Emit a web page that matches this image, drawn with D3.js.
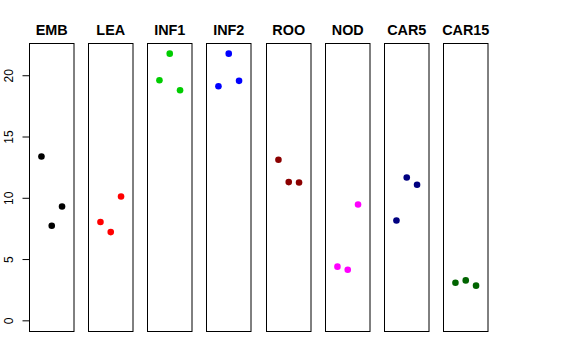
<!DOCTYPE html>
<html lang="en">
<head>
<meta charset="UTF-8">
<script src="https://d3js.org/d3.v7.min.js"></script>
<style>
  body { margin: 0; background: #fff; }
  svg { display: block; font-family: 'Liberation Sans', Arial, sans-serif; }
</style>
</head>
<body>
<svg id="chart" width="576" height="360"></svg>
<script>
// ------------------------------------------------------------------
// Data
// ------------------------------------------------------------------
const groups = ["EMB", "LEA", "INF1", "INF2", "ROO", "NOD", "CAR5", "CAR15"];
const colors = ["#000000", "#FF0000", "#00CD00", "#0000FF", "#8B0000", "#FF00FF", "#000080", "#006400"];
const values = [
  [13.37, 7.72, 9.29],
  [8.02, 7.20, 10.11],
  [19.59, 21.76, 18.78],
  [19.10, 21.76, 19.54],
  [13.10, 11.28, 11.25],
  [4.38, 4.13, 9.45],
  [8.15, 11.65, 11.06],
  [3.07, 3.26, 2.83]
];
const yTicks = [0, 5, 10, 15, 20];

// ------------------------------------------------------------------
// Layout
// ------------------------------------------------------------------
const svg = d3.select("#chart");
const plotTop = 43, plotBottom = 331, panelW = 44.5;

const panelX = d3.scaleLinear().domain([0, groups.length - 1]).range([29, 443]);

const yMax = d3.max(values.flat());
const pad = yMax * 0.04;
const y = d3.scaleLinear().domain([-pad, yMax + pad]).range([plotBottom, plotTop]);

// x inside each panel: positions 1..3 on a 0..4 range with R-style 4% padding
const xIn = d3.scaleLinear().domain([-0.16, 4.16]).range([0, panelW]);

groups.forEach((g, i) => {
  const left = Math.round(panelX(i)) + 0.5;
  const p = svg.append("g").attr("transform", `translate(${left},0)`);

  p.append("rect")
    .attr("x", 0).attr("y", plotTop + 0.5)
    .attr("width", panelW).attr("height", plotBottom - plotTop)
    .attr("fill", "none").attr("stroke", "#000").attr("stroke-width", 1);

  p.append("text")
    .attr("x", panelW / 2).attr("y", 34.5)
    .attr("text-anchor", "middle")
    .attr("font-weight", "bold").attr("font-size", "14.4px")
    .text(g);

  p.selectAll("circle").data(values[i]).join("circle")
    .attr("cx", (d, j) => xIn(j + 1))
    .attr("cy", d => y(d))
    .attr("r", 3.3)
    .attr("fill", colors[i]);
});

// Y axis on the first panel only
const axisX = Math.round(panelX(0)) + 0.5;
const yAxis = d3.axisLeft(y).tickValues(yTicks).tickSize(7).tickPadding(0).tickFormat(d3.format("d"));
const ax = svg.append("g").attr("transform", `translate(${axisX},0)`).call(yAxis);
ax.select(".domain").attr("stroke", "none");
ax.selectAll(".tick line").attr("stroke", "#000");
ax.selectAll(".tick text")
  .attr("font-size", "12px").attr("font-family", "'Liberation Sans', Arial, sans-serif")
  .attr("fill", "#000")
  .attr("text-anchor", "middle")
  .attr("x", null).attr("dy", null)
  .attr("transform", "translate(-16.5,0) rotate(-90)")
  .attr("y", 0);
ax.append("path")
  .attr("d", `M0,${y(0)}V${y(20)}`)
  .attr("stroke", "#000");
</script>
</body>
</html>
